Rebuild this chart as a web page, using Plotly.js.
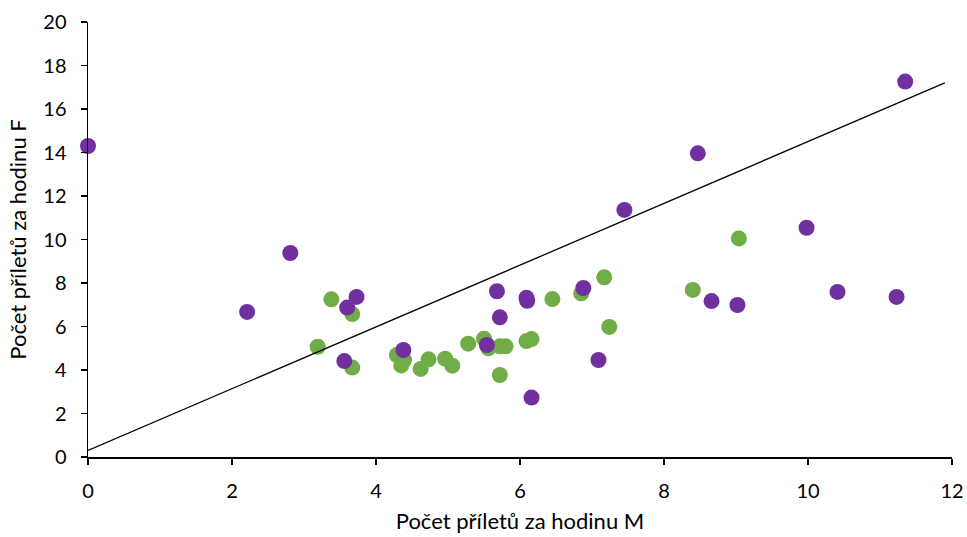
<!DOCTYPE html>
<html>
<head>
<meta charset="utf-8">
<script src="https://cdn.plot.ly/plotly-3.0.1.min.js"></script>
<style>
  html, body { margin: 0; padding: 0; background: #fff; }
  #chart { width: 967px; height: 537px; }
</style>
</head>
<body>
<div id="chart"></div>
<script>
// green series (M vs F)
const greenX = [3.38, 3.67, 3.19, 3.67, 4.29, 4.39, 4.35, 4.62, 4.73, 4.96, 5.06, 5.28, 5.50, 5.56,
  5.72, 5.80, 5.72, 6.09, 6.16, 6.45, 6.85, 7.17, 7.24, 8.40, 9.04];
const greenY = [7.25, 6.57, 5.07, 4.11, 4.69, 4.46, 4.21, 4.05, 4.49, 4.52, 4.20, 5.21, 5.44, 5.00,
  5.09, 5.09, 3.77, 5.33, 5.42, 7.26, 7.52, 8.26, 5.98, 7.68, 10.05];

// purple series
const purpleX = [0, 2.21, 2.81, 3.56, 3.60, 3.73, 4.38, 5.54, 5.68, 5.72, 6.09, 6.10, 6.16, 6.88,
  7.09, 7.45, 8.47, 8.66, 9.02, 9.98, 10.41, 11.23, 11.35];
const purpleY = [14.3, 6.67, 9.38, 4.41, 6.87, 7.36, 4.92, 5.15, 7.62, 6.42, 7.32, 7.18, 2.73, 7.77,
  4.46, 11.36, 13.96, 7.17, 6.99, 10.54, 7.59, 7.36, 17.26];

// straight line across the plot
const lineX = [0, 11.9];
const lineY = [0.3, 17.2];

const FONT = "Lato, 'Open Sans', sans-serif";

const greenTrace = {
  type: "scatter",
  mode: "markers",
  x: greenX,
  y: greenY,
  marker: { color: "#70AD47", size: 16 },
  cliponaxis: false,
  hoverinfo: "x+y",
};

const purpleTrace = {
  type: "scatter",
  mode: "markers",
  x: purpleX,
  y: purpleY,
  marker: { color: "#7030A0", size: 16 },
  cliponaxis: false,
  hoverinfo: "x+y",
};

const lineTrace = {
  type: "scatter",
  mode: "lines",
  x: lineX,
  y: lineY,
  line: { color: "#000000", width: 1.3 },
  cliponaxis: false,
  hoverinfo: "skip",
};

const layout = {
  width: 967,
  height: 537,
  margin: { l: 88, r: 15, t: 22, b: 80 },
  paper_bgcolor: "#ffffff",
  plot_bgcolor: "#ffffff",
  showlegend: false,
  font: { family: FONT, size: 20, color: "#000000" },
  xaxis: {
    range: [0, 12],
    tickmode: "array",
    tickvals: [0, 2, 4, 6, 8, 10, 12],
    showgrid: false,
    zeroline: false,
    showline: true,
    linecolor: "#000000",
    linewidth: 1.5,
    ticks: "outside",
    ticklen: 6,
    tickcolor: "#000000",
    tickwidth: 1.5,
    tickfont: { size: 20 },
    ticklabelstandoff: 9,
    title: { text: "Počet příletů za hodinu M", font: { size: 22 }, standoff: 13 },
  },
  yaxis: {
    range: [0, 20],
    tickmode: "array",
    tickvals: [0, 2, 4, 6, 8, 10, 12, 14, 16, 18, 20],
    showgrid: false,
    zeroline: false,
    showline: true,
    linecolor: "#000000",
    linewidth: 1.5,
    ticks: "outside",
    ticklen: 6,
    tickcolor: "#000000",
    tickwidth: 1.5,
    tickfont: { size: 20 },
    ticklabelstandoff: 10,
    title: { text: "Počet příletů za hodinu F", font: { size: 22 }, standoff: 10 },
  },
};

Plotly.newPlot("chart", [greenTrace, purpleTrace, lineTrace], layout, {
  displayModeBar: false,
  responsive: false,
  staticPlot: true,
});
</script>
</body>
</html>
